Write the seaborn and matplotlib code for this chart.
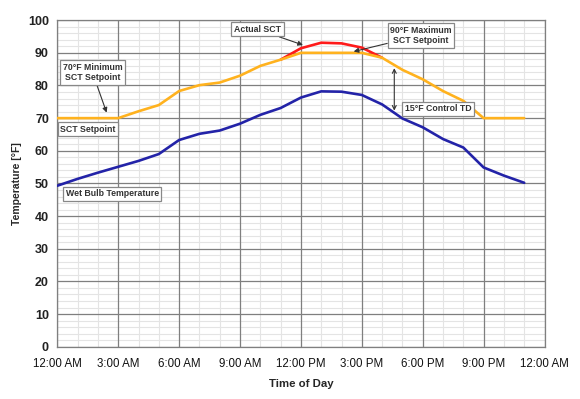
import numpy as np
import pandas as pd
import matplotlib
matplotlib.use("Agg")
import matplotlib.pyplot as plt
import seaborn as sns

# ── data (hour of day, °F) ──────────────────────────────────────────────────
hours = list(range(24))
wet_bulb = [49.3, 51.4, 53.3, 55.1, 56.9, 59.0, 63.3, 65.2, 66.2, 68.3, 71.0, 73.1,
            76.3, 78.2, 78.1, 77.1, 74.2, 69.9, 67.2, 63.6, 61.0, 54.9, 52.4, 50.2]
sct_setpoint = [70.0, 70.0, 70.0, 70.0, 72.1, 74.0, 78.3, 80.1, 80.9, 83.0, 86.0, 87.9,
                90.0, 90.0, 90.0, 90.0, 88.5, 84.8, 81.9, 78.3, 75.3, 70.0, 70.0, 70.0]
actual_hours = [11, 12, 13, 14, 15, 16]
actual_sct = [87.9, 91.4, 93.1, 92.9, 91.6, 88.5]

tick_hours = [0, 3, 6, 9, 12, 15, 18, 21, 24]
tick_labels = ["12:00 AM", "3:00 AM", "6:00 AM", "9:00 AM", "12:00 PM",
               "3:00 PM", "6:00 PM", "9:00 PM", "12:00 AM"]

df = pd.DataFrame({"hour": hours, "wet_bulb": wet_bulb, "sct": sct_setpoint})
df_act = pd.DataFrame({"hour": actual_hours, "sct": actual_sct})

sns.set_style("white")
plt.rcParams["font.family"] = ["Liberation Sans", "DejaVu Sans"]

fig = plt.figure(figsize=(5.8, 3.99), dpi=100)
ax = fig.add_axes([0.0988, 0.1311, 0.840, 0.8183])

# minor grid drawn by hand underneath, major grid from the axis on top of it
minor_x = [h for h in range(25) if h % 3]
minor_y = [v for v in range(0, 101, 2) if v % 10]
ax.vlines(minor_x, 0, 100, color="#e4e4e4", lw=0.8, zorder=0.1)
ax.hlines(minor_y, 0, 24, color="#e4e4e4", lw=0.8, zorder=0.1)
ax.grid(which="major", color="#7f7f7f", lw=0.9, ls="-")
ax.set_axisbelow(True)

sns.lineplot(data=df_act, x="hour", y="sct", ax=ax, color="#ff1a1a", lw=1.9, zorder=3)
sns.lineplot(data=df, x="hour", y="sct", ax=ax, color="#ffb21e", lw=1.9, zorder=4)
sns.lineplot(data=df, x="hour", y="wet_bulb", ax=ax, color="#2323a8", lw=1.9, zorder=4)

ax.set_xlim(0, 24)
ax.set_ylim(0, 100)
ax.set_xticks(tick_hours)
ax.set_xticklabels(tick_labels, fontsize=8.3, color="#111111")
ax.set_yticks(range(0, 101, 10))
ax.set_yticklabels([str(v) for v in range(0, 101, 10)], fontsize=9, fontweight="bold",
                   color="#222222")
ax.tick_params(axis="both", which="major", direction="out", length=3.5, width=0.8,
               color="#7f7f7f", pad=2.5)
ax.tick_params(axis="x", which="major", pad=5)
for side in ["top", "right", "left", "bottom"]:
    ax.spines[side].set_color("#7f7f7f")
    ax.spines[side].set_linewidth(0.9)

ax.set_xlabel("Time of Day", fontsize=8.2, fontweight="bold", labelpad=6)
ax.set_ylabel("Temperature [°F]", fontsize=7.5, fontweight="bold", labelpad=4)

# annotation boxes
box = dict(boxstyle="square,pad=0.3", fc="white", ec="#888888", lw=0.9)
arrow = dict(arrowstyle="-|>", color="#333333", lw=0.8, mutation_scale=7, shrinkA=0, shrinkB=0)
txt = dict(fontsize=6.3, fontweight="bold", color="#333333", ha="center", va="center",
           bbox=box, zorder=6)

ax.annotate("Actual SCT", xy=(12.1, 92.4), xytext=(9.86, 97.2), arrowprops=arrow, **txt)
ax.annotate("90°F Maximum\nSCT Setpoint", xy=(14.6, 90.4), xytext=(17.92, 95.4),
            arrowprops=arrow, **txt)
ax.annotate("70°F Minimum\nSCT Setpoint", xy=(2.43, 71.7), xytext=(1.73, 84.0),
            arrowprops=arrow, **txt)
ax.text(1.51, 66.6, "SCT Setpoint", **txt)
ax.text(2.70, 46.8, "Wet Bulb Temperature", **txt)
ax.text(18.75, 72.8, "15°F Control TD", **txt)
ax.annotate("", xy=(16.6, 85.3), xytext=(16.6, 72.3),
            arrowprops=dict(arrowstyle="<->", color="#333333", lw=0.8, mutation_scale=7,
                            shrinkA=0, shrinkB=0))

fig.savefig("out.png", dpi=100)
